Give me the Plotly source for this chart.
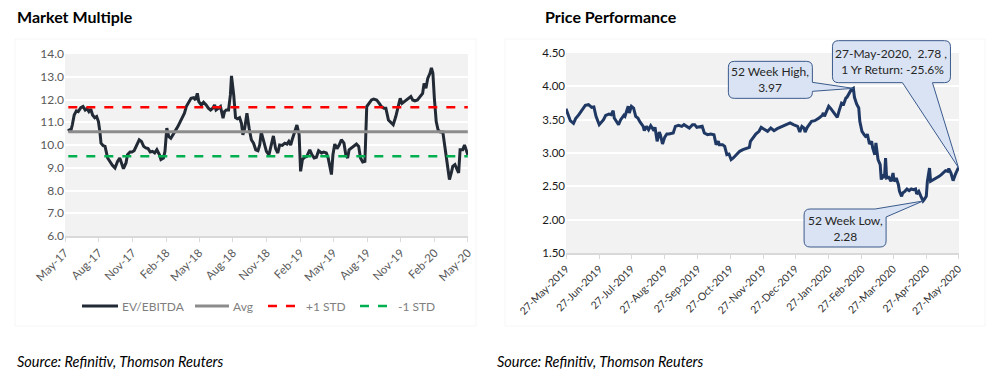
import plotly.graph_objects as go
import pandas as pd

# ---------------- DATA ----------------
ev_dates = [
    "2017-06-05", "2017-06-11", "2017-06-16", "2017-06-21", "2017-06-27", "2017-07-02", "2017-07-09", "2017-07-15",
    "2017-07-21", "2017-07-26", "2017-07-31", "2017-08-05", "2017-08-10", "2017-08-16", "2017-08-21", "2017-08-26",
    "2017-08-30", "2017-09-02", "2017-09-08", "2017-09-13", "2017-09-20", "2017-09-26", "2017-10-03", "2017-10-10",
    "2017-10-17", "2017-10-23", "2017-10-28", "2017-11-02", "2017-11-09", "2017-11-13", "2017-11-20", "2017-11-25",
    "2017-12-01", "2017-12-08", "2017-12-15", "2017-12-21", "2017-12-27", "2018-01-02", "2018-01-08", "2018-01-14",
    "2018-01-20", "2018-01-26", "2018-02-01", "2018-02-08", "2018-02-12", "2018-02-19", "2018-02-23", "2018-02-28",
    "2018-03-05", "2018-03-11", "2018-03-18", "2018-03-23", "2018-03-30", "2018-04-05", "2018-04-11", "2018-04-17",
    "2018-04-22", "2018-04-29", "2018-05-05", "2018-05-12", "2018-05-17", "2018-05-22", "2018-05-26", "2018-06-02",
    "2018-06-08", "2018-06-15", "2018-06-21", "2018-06-27", "2018-07-03", "2018-07-08", "2018-07-12", "2018-07-19",
    "2018-07-24", "2018-07-31", "2018-08-04", "2018-08-09", "2018-08-15", "2018-08-20", "2018-08-23", "2018-08-29",
    "2018-09-03", "2018-09-08", "2018-09-14", "2018-09-19", "2018-09-23", "2018-09-28", "2018-10-04", "2018-10-10",
    "2018-10-16", "2018-10-22", "2018-10-28", "2018-11-03", "2018-11-08", "2018-11-12", "2018-11-19", "2018-11-26",
    "2018-12-03", "2018-12-09", "2018-12-15", "2018-12-21", "2018-12-27", "2019-01-01", "2019-01-08", "2019-01-15",
    "2019-01-21", "2019-01-26", "2019-01-31", "2019-02-04", "2019-02-11", "2019-02-17", "2019-02-23", "2019-02-27",
    "2019-03-04", "2019-03-10", "2019-03-16", "2019-03-24", "2019-03-30", "2019-04-05", "2019-04-11", "2019-04-17",
    "2019-04-25", "2019-05-01", "2019-05-08", "2019-05-13", "2019-05-17", "2019-05-22", "2019-05-26", "2019-05-31",
    "2019-06-06", "2019-06-12", "2019-06-18", "2019-06-25", "2019-06-30", "2019-07-05", "2019-07-09", "2019-07-16",
    "2019-07-22", "2019-07-29", "2019-08-04", "2019-08-09", "2019-08-15", "2019-08-21", "2019-08-26", "2019-09-01",
    "2019-09-08", "2019-09-14", "2019-09-22", "2019-09-29", "2019-10-05", "2019-10-12", "2019-10-17", "2019-10-24",
    "2019-10-30", "2019-11-06", "2019-11-13", "2019-11-19", "2019-11-25", "2019-11-30", "2019-12-06", "2019-12-13",
    "2019-12-19", "2019-12-24", "2019-12-29", "2020-01-04", "2020-01-11", "2020-01-18", "2020-01-25", "2020-01-29",
    "2020-02-03", "2020-02-08", "2020-02-14", "2020-02-18", "2020-02-22", "2020-02-26", "2020-03-02", "2020-03-07",
    "2020-03-13", "2020-03-20", "2020-03-25", "2020-03-29", "2020-04-03", "2020-04-07", "2020-04-12", "2020-04-16",
    "2020-04-22", "2020-04-27", "2020-05-02", "2020-05-06", "2020-05-13", "2020-05-18", "2020-05-23", "2020-05-27",
]
ev_values = [
    10.71, 10.57, 10.89, 11.32, 11.50, 11.47, 11.64, 11.69,
    11.54, 11.60, 11.47, 11.58, 11.32, 11.20, 11.25, 11.03,
    10.57, 10.08, 9.97, 9.94, 9.43, 9.25, 9.11, 8.99,
    9.28, 9.43, 9.14, 8.96, 9.21, 9.57, 9.69, 9.69,
    9.75, 10.01, 10.23, 10.16, 9.94, 9.87, 9.84, 9.69,
    9.72, 9.65, 9.79, 9.57, 9.36, 9.43, 9.72, 10.74,
    10.38, 10.30, 10.52, 10.62, 10.81, 11.00, 11.18, 11.40,
    11.69, 11.91, 12.05, 12.08, 11.98, 12.27, 11.91, 11.76,
    11.88, 11.76, 11.62, 11.54, 11.62, 11.76, 11.54, 11.62,
    11.69, 11.18, 11.47, 11.54, 11.54, 12.20, 13.04, 12.20,
    11.20, 11.15, 11.20, 10.96, 10.45, 10.74, 11.40, 10.74,
    10.23, 10.08, 9.79, 9.75, 10.01, 10.57, 10.08, 9.72,
    9.57, 10.00, 10.40, 9.84, 9.65, 10.00, 9.98, 10.08,
    10.04, 10.16, 10.00, 10.23, 10.57, 10.88, 10.45, 8.84,
    9.36, 9.46, 9.50, 9.79, 9.57, 9.43, 9.46, 9.75,
    9.65, 9.69, 9.65, 9.43, 9.11, 8.70, 9.57, 10.04,
    9.84, 10.00, 10.23, 10.08, 9.57, 9.43, 9.79, 9.87,
    9.94, 10.04, 9.94, 9.43, 9.25, 9.28, 11.69, 11.83,
    11.98, 12.02, 11.98, 11.83, 11.69, 11.62, 11.62, 11.10,
    11.00, 10.89, 11.25, 11.69, 12.05, 11.83, 11.91, 11.98,
    12.05, 12.13, 11.98, 11.94, 11.98, 12.13, 12.27, 12.71,
    12.49, 12.93, 13.15, 13.39, 13.15, 12.05, 11.03, 10.67,
    10.57, 10.57, 10.00, 9.50, 8.92, 8.48, 8.77, 9.06,
    9.14, 8.92, 8.77, 9.79, 9.79, 10.00, 9.79, 9.57,
]
ev_avg = 10.58
ev_plus_std = 11.66
ev_minus_std = 9.51
mm_series_names = ["EV/EBITDA", "Avg", "+1 STD", "-1 STD"]
mm_tick_dates = ["2017-05-27", "2017-08-27", "2017-11-27", "2018-02-27", "2018-05-27", "2018-08-27", "2018-11-27",
                 "2019-02-27", "2019-05-27", "2019-08-27", "2019-11-27", "2020-02-27", "2020-05-27"]
mm_tick_labels = ["May-17", "Aug-17", "Nov-17", "Feb-18", "May-18", "Aug-18", "Nov-18",
                  "Feb-19", "May-19", "Aug-19", "Nov-19", "Feb-20", "May-20"]

price_dates = [
    "2019-05-27", "2019-05-29", "2019-05-31", "2019-06-03", "2019-06-05", "2019-06-08", "2019-06-11", "2019-06-14",
    "2019-06-17", "2019-06-20", "2019-06-22", "2019-06-24", "2019-06-27", "2019-06-29", "2019-07-01", "2019-07-03",
    "2019-07-06", "2019-07-08", "2019-07-10", "2019-07-11", "2019-07-13", "2019-07-15", "2019-07-17", "2019-07-20",
    "2019-07-21", "2019-07-24", "2019-07-25", "2019-07-27", "2019-07-29", "2019-07-31", "2019-08-02", "2019-08-04",
    "2019-08-07", "2019-08-08", "2019-08-10", "2019-08-12", "2019-08-14", "2019-08-17", "2019-08-18", "2019-08-20",
    "2019-08-22", "2019-08-23", "2019-08-25", "2019-08-27", "2019-08-29", "2019-08-31", "2019-09-04", "2019-09-06",
    "2019-09-09", "2019-09-12", "2019-09-14", "2019-09-16", "2019-09-19", "2019-09-22", "2019-09-24", "2019-09-26",
    "2019-09-29", "2019-10-01", "2019-10-03", "2019-10-06", "2019-10-09", "2019-10-12", "2019-10-14", "2019-10-16",
    "2019-10-17", "2019-10-20", "2019-10-22", "2019-10-24", "2019-10-26", "2019-10-28", "2019-10-30", "2019-11-02",
    "2019-11-05", "2019-11-08", "2019-11-11", "2019-11-14", "2019-11-15", "2019-11-17", "2019-11-20", "2019-11-23",
    "2019-11-25", "2019-11-27", "2019-11-29", "2019-12-01", "2019-12-04", "2019-12-07", "2019-12-10", "2019-12-13",
    "2019-12-16", "2019-12-19", "2019-12-22", "2019-12-25", "2019-12-27", "2019-12-29", "2019-12-31", "2020-01-02",
    "2020-01-04", "2020-01-05", "2020-01-07", "2020-01-09", "2020-01-11", "2020-01-14", "2020-01-16", "2020-01-18",
    "2020-01-21", "2020-01-22", "2020-01-23", "2020-01-25", "2020-01-27", "2020-01-29", "2020-01-31", "2020-02-02",
    "2020-02-04", "2020-02-06", "2020-02-08", "2020-02-10", "2020-02-12", "2020-02-13", "2020-02-15", "2020-02-17",
    "2020-02-19", "2020-02-20", "2020-02-22", "2020-02-24", "2020-02-25", "2020-02-27", "2020-02-29", "2020-03-02",
    "2020-03-03", "2020-03-05", "2020-03-07", "2020-03-08", "2020-03-10", "2020-03-11", "2020-03-13", "2020-03-15",
    "2020-03-16", "2020-03-17", "2020-03-19", "2020-03-20", "2020-03-21", "2020-03-23", "2020-03-25", "2020-03-27",
    "2020-03-28", "2020-03-30", "2020-04-01", "2020-04-02", "2020-04-04", "2020-04-05", "2020-04-07", "2020-04-09",
    "2020-04-11", "2020-04-13", "2020-04-15", "2020-04-17", "2020-04-18", "2020-04-20", "2020-04-22", "2020-04-24",
    "2020-04-25", "2020-04-27", "2020-04-28", "2020-04-30", "2020-05-01", "2020-05-04", "2020-05-06", "2020-05-09",
    "2020-05-11", "2020-05-13", "2020-05-15", "2020-05-17", "2020-05-18", "2020-05-20", "2020-05-22", "2020-05-24",
    "2020-05-26", "2020-05-27",
]
price_values = [
    3.665, 3.565, 3.485, 3.445, 3.515, 3.575, 3.650, 3.715,
    3.725, 3.685, 3.690, 3.550, 3.425, 3.465, 3.500, 3.565,
    3.585, 3.575, 3.635, 3.525, 3.465, 3.425, 3.500, 3.565,
    3.550, 3.700, 3.600, 3.700, 3.675, 3.550, 3.525, 3.465,
    3.400, 3.335, 3.400, 3.350, 3.410, 3.335, 3.385, 3.175,
    3.315, 3.275, 3.135, 3.235, 3.285, 3.285, 3.300, 3.400,
    3.415, 3.400, 3.425, 3.400, 3.375, 3.425, 3.425, 3.385,
    3.400, 3.400, 3.300, 3.275, 3.285, 3.275, 3.125, 3.175,
    3.125, 3.125, 3.100, 2.975, 2.985, 2.900, 2.925, 2.975,
    3.025, 3.050, 3.065, 3.085, 3.175, 3.225, 3.285, 3.325,
    3.385, 3.365, 3.350, 3.325, 3.375, 3.335, 3.365, 3.385,
    3.415, 3.435, 3.450, 3.425, 3.415, 3.400, 3.315, 3.400,
    3.375, 3.315, 3.385, 3.435, 3.475, 3.485, 3.500, 3.525,
    3.565, 3.600, 3.550, 3.625, 3.700, 3.665, 3.625, 3.575,
    3.535, 3.650, 3.750, 3.735, 3.825, 3.835, 3.900, 3.950,
    3.970, 3.835, 3.735, 3.675, 3.475, 3.325, 3.275, 3.235,
    3.285, 3.135, 3.175, 3.075, 2.975, 3.150, 2.900, 2.825,
    2.600, 2.675, 2.625, 2.925, 2.625, 2.635, 2.575, 2.700,
    2.575, 2.625, 2.525, 2.425, 2.350, 2.400, 2.425, 2.460,
    2.435, 2.460, 2.450, 2.460, 2.385, 2.425, 2.350, 2.280,
    2.300, 2.350, 2.575, 2.775, 2.575, 2.600, 2.625, 2.650,
    2.675, 2.700, 2.735, 2.725, 2.765, 2.700, 2.585, 2.675,
    2.735, 2.780,
]
one_year_return_label = "-25.6%"
pp_tick_dates = ["2019-05-27", "2019-06-27", "2019-07-27", "2019-08-27", "2019-09-27", "2019-10-27", "2019-11-27",
                 "2019-12-27", "2020-01-27", "2020-02-27", "2020-03-27", "2020-04-27", "2020-05-27"]
pp_tick_labels = ["27-May-2019", "27-Jun-2019", "27-Jul-2019", "27-Aug-2019", "27-Sep-2019", "27-Oct-2019",
                  "27-Nov-2019", "27-Dec-2019", "27-Jan-2020", "27-Feb-2020", "27-Mar-2020", "27-Apr-2020",
                  "27-May-2020"]

# ---------------- STYLE ----------------
FONT = "Lato"
GRID_BG = "#f2f2f2"
AXIS_GRAY = "#d9d9d9"
CALLOUT_FILL = "#dae3f3"
CALLOUT_LINE = "#3a5a8c"
mm_styles = [dict(color="#222a35", width=3), dict(color="#8c8c8c", width=3),
             dict(color="#ff0000", width=2.5, dash="dash"), dict(color="#00b050", width=2.5, dash="dash")]

ev_dt = pd.to_datetime(ev_dates)
pr_dt = pd.to_datetime(price_dates)

fig = go.Figure()

span = [ev_dt[0], ev_dt[-1]]
mm_series = [(ev_dt, ev_values), (span, [ev_avg] * 2), (span, [ev_plus_std] * 2), (span, [ev_minus_std] * 2)]
for (xs, ys), name, st in zip(mm_series, mm_series_names, mm_styles):
    fig.add_trace(go.Scatter(x=xs, y=ys, mode="lines", name=name, showlegend=False,
                             line=st, xaxis="x", yaxis="y"))

fig.add_trace(go.Scatter(x=pr_dt, y=price_values, mode="lines", showlegend=False,
                         line=dict(color="#1f3864", width=3), xaxis="x2", yaxis="y2"))

H = 390.0
W = 1008.0


def px_x(p):
    return p / W


def px_y(p):
    return 1 - p / H


Y2_DOMAIN = [px_y(253), px_y(53)]
Y2_RANGE = [1.5, 4.5]

fig.update_layout(
    width=1008, height=390,
    margin=dict(l=0, r=0, t=0, b=0, autoexpand=False),
    paper_bgcolor="white",
    plot_bgcolor=GRID_BG,
    font=dict(family=FONT, size=11, color="#595959"),
    showlegend=False,
    xaxis=dict(domain=[px_x(65), px_x(468)], type="date", automargin=False,
               range=[pd.Timestamp("2017-05-27"), pd.Timestamp("2020-05-27 12:00")],
               tickvals=pd.to_datetime(mm_tick_dates), ticktext=mm_tick_labels, tickangle=-45,
               showgrid=False, showline=True, linecolor=AXIS_GRAY, linewidth=1.5,
               ticks="outside", ticklen=4, tickcolor=AXIS_GRAY,
               tickfont=dict(family=FONT, size=11.5, color="#595959"), anchor="y"),
    yaxis=dict(domain=[px_y(236), px_y(54)], range=[6, 14], dtick=1, tickformat=".1f", automargin=False,
               showgrid=True, gridcolor="white", gridwidth=2, zeroline=False,
               ticks="", tickfont=dict(family=FONT, size=12, color="#595959"), anchor="x"),
    xaxis2=dict(domain=[px_x(566), px_x(959)], type="date", automargin=False,
                range=[pd.Timestamp("2019-05-27"), pd.Timestamp("2020-05-27 12:00")],
                tickvals=pd.to_datetime(pp_tick_dates), ticktext=pp_tick_labels, tickangle=-45,
                showgrid=False, showline=True, linecolor=AXIS_GRAY, linewidth=1.5,
                ticks="outside", ticklen=4, tickcolor=AXIS_GRAY,
                tickfont=dict(family=FONT, size=10.5, color="#333333"), anchor="y2"),
    yaxis2=dict(domain=Y2_DOMAIN, range=Y2_RANGE, dtick=0.5, tickformat=".2f", automargin=False,
                showgrid=True, gridcolor="white", gridwidth=2, zeroline=False,
                ticks="", tickfont=dict(family=FONT, size=11.5, color="#1a1a1a"), anchor="x2"),
)

# faint chart-area frames
for x0, x1 in [(15, 476), (505, 985)]:
    fig.add_shape(type="rect", xref="paper", yref="paper", x0=px_x(x0), x1=px_x(x1),
                  y0=px_y(326), y1=px_y(39), line=dict(color="#f6f6f6", width=1), layer="below")

# manual legend for the market multiple chart
legend_slots = [(82, 118), (195, 229), (268, 302), (360, 394)]
for (lx0, lx1), name, st in zip(legend_slots, mm_series_names, mm_styles):
    fig.add_shape(type="line", xref="paper", yref="paper", x0=px_x(lx0), x1=px_x(lx1),
                  y0=px_y(306), y1=px_y(306), line=st)
    fig.add_annotation(text=name, xref="paper", yref="paper", x=px_x(lx1 + 2), y=px_y(306),
                       xanchor="left", yanchor="middle", showarrow=False,
                       font=dict(family=FONT, size=12, color="#7f7f7f"))

for text, x in [("<b>Market Multiple</b>", 15), ("<b>Price Performance</b>", 543)]:
    fig.add_annotation(text=text, xref="paper", yref="paper", x=px_x(x), y=px_y(17),
                       xanchor="left", yanchor="middle", showarrow=False,
                       font=dict(family=FONT, size=16, color="black"))
for x in [15, 495]:
    fig.add_annotation(text="<i>Source: Refinitiv, Thomson Reuters</i>", xref="paper", yref="paper",
                       x=px_x(x), y=px_y(361), xanchor="left", yanchor="middle", showarrow=False,
                       font=dict(family=FONT, size=14.5, color="black"))


def callout_path(x0, x1, top, bot, side, a, b, r=6):
    """Rounded box (pixels, up positive, relative to anchor) with a wedge to (0,0)."""
    p = [f"M {x0 + r},{top}"]
    if side == "top":
        p += [f"L {a},{top}", "L 0,0", f"L {b},{top}"]
    if side == "topright":
        p += [f"L {a},{top}", "L 0,0", f"L {x1},{b}"]
    else:
        p += [f"L {x1 - r},{top}", f"Q {x1},{top} {x1},{top - r}"]
    if side == "right":
        p += [f"L {x1},{a}", "L 0,0", f"L {x1},{b}"]
    p += [f"L {x1},{bot + r}", f"Q {x1},{bot} {x1 - r},{bot}"]
    if side == "bottom":
        p += [f"L {a},{bot}", "L 0,0", f"L {b},{bot}"]
    p += [f"L {x0 + r},{bot}", f"Q {x0},{bot} {x0},{bot + r}",
          f"L {x0},{top - r}", f"Q {x0},{top} {x0 + r},{top}", "Z"]
    return " ".join(p)


def y2_to_paper(v):
    # linear y-axis mapping of the price subplot (so the callouts are not clipped by the plot area)
    return Y2_DOMAIN[0] + (v - Y2_RANGE[0]) / (Y2_RANGE[1] - Y2_RANGE[0]) * (Y2_DOMAIN[1] - Y2_DOMAIN[0])


hi_i = max(range(len(price_values)), key=lambda i: price_values[i])
lo_i = min(range(len(price_values)), key=lambda i: price_values[i])
last_i = len(price_values) - 1

callouts = [
    (hi_i, f"52 Week High,<br>{price_values[hi_i]:.2f}", (-125, -41, 27, -10, "right", 6, -3)),
    (last_i, f"{pr_dt[last_i]:%d-%b-%Y},  {price_values[last_i]:.2f} ,<br> 1 Yr Return: {one_year_return_label}",
     (-126, -8, 127, 85, "bottom", -26, -56)),
    (lo_i, f"52 Week Low,<br>{price_values[lo_i]:.2f}", (-119, -37, -8, -46, "topright", -48, -16)),
]
for idx, text, (x0, x1, top, bot, side, a, b) in callouts:
    fig.add_shape(type="path", xref="x2", yref="paper", xsizemode="pixel", ysizemode="pixel",
                  xanchor=pr_dt[idx], yanchor=y2_to_paper(price_values[idx]),
                  path=callout_path(x0, x1, top, bot, side, a, b),
                  fillcolor=CALLOUT_FILL, line=dict(color=CALLOUT_LINE, width=1), layer="above")
    fig.add_annotation(text=text, xref="x2", yref="y2", x=pr_dt[idx], y=price_values[idx],
                       xshift=(x0 + x1) / 2, yshift=(top + bot) / 2, showarrow=False,
                       xanchor="center", yanchor="middle", align="center",
                       font=dict(family=FONT, size=12, color="#262626"))

fig.write_html("out.html", config={"displayModeBar": False},
               post_script="document.body.style.margin='0';")
